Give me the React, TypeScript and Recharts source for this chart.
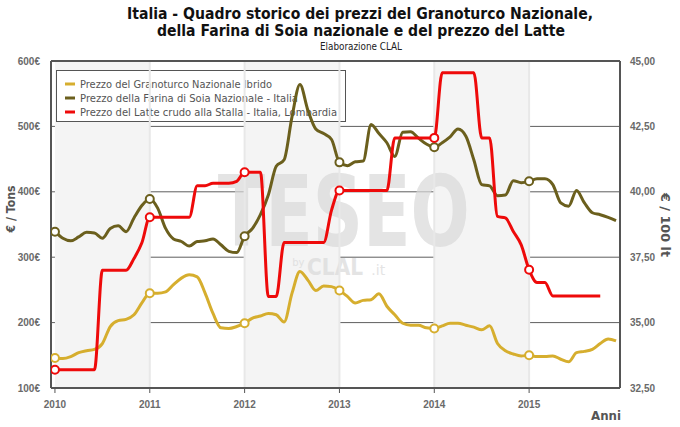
import React from 'react';
import {
  ComposedChart,
  Line,
  XAxis,
  YAxis,
  CartesianGrid,
  ReferenceArea,
  ReferenceLine,
} from 'recharts';

// monthly prices, Jan 2010 .. Dec 2015
const cornPrice = [
  146, 145, 148, 154, 157, 159, 168, 194, 203, 205, 212, 230,
  245, 245, 247, 258, 268, 273, 270, 245, 214, 192, 191, 194,
  199, 207, 210, 214, 212, 201, 245, 278, 265, 249, 256, 255,
  249, 240, 230, 234, 235, 244, 225, 212, 199, 196, 196, 192,
  191, 195, 199, 199, 196, 193, 189, 195, 168, 157, 152, 149,
  150, 148, 148, 149, 144, 140, 154, 156, 159, 168, 175, 172,
];

const soyPrice = [
  339, 329, 325, 331, 338, 337, 329, 344, 348, 339, 360, 379,
  389, 375, 344, 328, 324, 317, 324, 325, 328, 319, 309, 307,
  332, 344, 365, 395, 439, 449, 515, 564, 525, 496, 489, 480,
  445, 440, 446, 447, 503, 489, 475, 454, 491, 492, 482, 473,
  468, 475, 484, 496, 485, 449, 411, 409, 394, 395, 417, 414,
  416, 420, 420, 411, 383, 378, 402, 383, 368, 365, 361, 356,
];

// Jan 2010 .. Oct 2015
const milkPrice = [
  33.2, 33.2, 33.2, 33.2, 33.2, 33.2, 37.0, 37.0, 37.0, 37.0, 37.45, 38.05,
  39.03, 39.03, 39.03, 39.03, 39.03, 39.03, 40.23, 40.23, 40.33, 40.33, 40.33, 40.4,
  40.75, 40.75, 40.75, 36.0, 36.0, 38.06, 38.06, 38.06, 38.06, 38.06, 38.06, 39.3,
  40.05, 40.05, 40.05, 40.05, 40.05, 40.05, 40.05, 42.06, 42.06, 42.06, 42.06, 42.06,
  42.06, 44.55, 44.55, 44.55, 44.55, 44.55, 42.06, 42.06, 39.06, 39.0, 38.48, 37.97,
  37.02, 36.53, 36.53, 36.02, 36.02, 36.02, 36.02, 36.02, 36.02, 36.02,
];

const yearTicks = [0, 12, 24, 36, 48, 60];
const leftTicks = [100, 200, 300, 400, 500, 600];
const rightTicks = [32.5, 35, 37.5, 40, 42.5, 45];
const shadedYears = [0, 24, 48];

const monthIdx = Array.from({ length: cornPrice.length }, (_, i) => i);
const rows = monthIdx.map((m) => ({
  m,
  corn: cornPrice[m],
  soy: soyPrice[m],
  milk: milkPrice[m],
}));

const CORN = '#d6ae2e';
const SOY = '#6b5f1d';
const MILK = '#ee0a0a';
const AXIS = '#555';
const tickFont = { fill: '#6a6a6a', fontSize: 10, fontWeight: 'bold', fontFamily: 'Liberation Sans, Arial, sans-serif' };

const series = [
  { key: 'corn', name: 'Prezzo del Granoturco Nazionale Ibrido', color: CORN, len: 192 },
  { key: 'soy', name: 'Prezzo della Farina di Soia Nazionale - Italia', color: SOY, len: 218 },
  { key: 'milk', name: 'Prezzo del Latte crudo alla Stalla - Italia, Lombardia', color: MILK, len: 257 },
];

const yearDot = (color: string) => (props: any) => {
  const { cx, cy, payload, index } = props;
  if (cy == null || payload.m % 12 !== 0) return <g key={`d-${index}`} />;
  return <circle key={`d-${index}`} cx={cx} cy={cy} r={4} fill="#fff" stroke={color} strokeWidth={2} />;
};

// watermark + legend box, drawn under the lines like in the original
const decor = (props: any) => {
  const { x, y, width, height } = props.viewBox;
  const px = (f: number) => x + f * width;
  const py = (f: number) => y + f * height;
  const lx = x + 5;
  const ly = y + 9;
  return (
    <g>
      <g opacity={0.7} fill="#d9d9d9" fontFamily="DejaVu Sans, sans-serif" fontWeight="bold">
        <text x={px(0.293)} y={py(0.566)} fontSize={98} textLength={0.443 * width} lengthAdjust="spacingAndGlyphs">
          TESEO
        </text>
        <text x={px(0.424)} y={py(0.628)} fontSize={10} fontWeight="normal">by</text>
        <text x={px(0.45)} y={py(0.655)} fontSize={23} textLength={56} lengthAdjust="spacingAndGlyphs">CLAL</text>
        <text x={px(0.563)} y={py(0.655)} fontSize={14} fontWeight="normal">.it</text>
      </g>
      <rect x={lx + 0.5} y={ly + 0.5} width={289} height={51} fill="#fff" stroke="#555" />
      {series.map((s, i) => (
        <g key={s.key}>
          <line x1={lx + 9} x2={lx + 19} y1={ly + 14 + i * 14} y2={ly + 14 + i * 14} stroke={s.color} strokeWidth={3} />
          <text
            x={lx + 24}
            y={ly + 18 + i * 14}
            fontSize={11}
            fill="#555"
            fontFamily="DejaVu Sans, sans-serif"
            textLength={s.len}
            lengthAdjust="spacingAndGlyphs"
          >
            {s.name}
          </text>
        </g>
      ))}
    </g>
  );
};

export default function App() {
  return (
    <div style={{ position: 'absolute', left: 0, top: 0, width: 680, height: 427, background: '#fff' }}>
      <svg width={680} height={427} style={{ position: 'absolute', left: 0, top: 0 }}>
        <g fontFamily="DejaVu Sans, sans-serif" fontWeight="bold" fill="#111" textAnchor="middle">
          <text x={360} y={19} fontSize={15} textLength={466} lengthAdjust="spacingAndGlyphs">
            Italia - Quadro storico dei prezzi del Granoturco Nazionale,
          </text>
          <text x={361} y={36} fontSize={15} textLength={408} lengthAdjust="spacingAndGlyphs">
            della Farina di Soia nazionale e del prezzo del Latte
          </text>
        </g>
        <text x={361} y={50} fontSize={10} fill="#222" textAnchor="middle" fontFamily="DejaVu Sans, sans-serif" textLength={82} lengthAdjust="spacingAndGlyphs">
          Elaborazione CLAL
        </text>
        <g fontFamily="DejaVu Sans, sans-serif" fontWeight="bold" fill="#555" fontSize={13} textAnchor="middle">
          <text transform="translate(15,209) rotate(-90)" textLength={47} lengthAdjust="spacingAndGlyphs">€ / Tons</text>
          <text transform="translate(661,225) rotate(90)" textLength={64} lengthAdjust="spacingAndGlyphs">€ / 100 lt</text>
          <text x={621} y={420} textAnchor="end" textLength={30} lengthAdjust="spacingAndGlyphs">Anni</text>
        </g>
      </svg>
      <div style={{ position: 'absolute', left: 0, top: 0 }}>
        <ComposedChart width={680} height={427} data={rows} margin={{ top: 61, right: 0, bottom: 0, left: 0 }}>
          {shadedYears.map((s) => (
            <ReferenceArea key={`band-${s}`} yAxisId="left" x1={s} x2={s + 12} y1={100} y2={600} fill="#f4f4f4" fillOpacity={1} stroke="none" />
          ))}
          {yearTicks.slice(1).map((t) => (
            <ReferenceLine key={`yl-${t}`} yAxisId="left" x={t} stroke="#e8e8e8" strokeWidth={2} />
          ))}
          <CartesianGrid yAxisId="left" vertical={false} stroke="#5e5e5e" strokeWidth={1} />
          <ReferenceArea yAxisId="left" x1={-0.5} x2={71.5} y1={100} y2={600} fillOpacity={0} stroke="none" label={decor} />
          <ReferenceLine yAxisId="left" y={600} stroke={AXIS} strokeWidth={2} />
          <XAxis
            dataKey="m"
            type="number"
            domain={[-0.5, 71.5]}
            ticks={yearTicks}
            tickFormatter={(m: number) => String(2010 + m / 12)}
            axisLine={{ stroke: AXIS, strokeWidth: 2 }}
            tickLine={{ stroke: AXIS }}
            tickSize={5}
            tickMargin={8}
            height={39}
            tick={tickFont}
            allowDataOverflow
          />
          <YAxis
            yAxisId="left"
            domain={[100, 600]}
            ticks={leftTicks}
            tickFormatter={(v: number) => `${v}€`}
            axisLine={{ stroke: AXIS, strokeWidth: 2 }}
            tickLine={false}
            tickSize={8}
            tickMargin={3}
            width={51}
            tick={tickFont}
          />
          <YAxis
            yAxisId="right"
            orientation="right"
            domain={[32.5, 45]}
            ticks={rightTicks}
            tickFormatter={(v: number) => v.toFixed(2).replace('.', ',')}
            axisLine={{ stroke: AXIS, strokeWidth: 2 }}
            tickLine={false}
            tickSize={6}
            tickMargin={4}
            width={60}
            tick={tickFont}
          />
          {series.map((s) => (
            <Line
              key={s.key}
              yAxisId={s.key === 'milk' ? 'right' : 'left'}
              type="monotone"
              dataKey={s.key}
              name={s.name}
              stroke={s.color}
              strokeWidth={3}
              dot={yearDot(s.color)}
              activeDot={false}
              isAnimationActive={false}
            />
          ))}
        </ComposedChart>
      </div>
    </div>
  );
}
